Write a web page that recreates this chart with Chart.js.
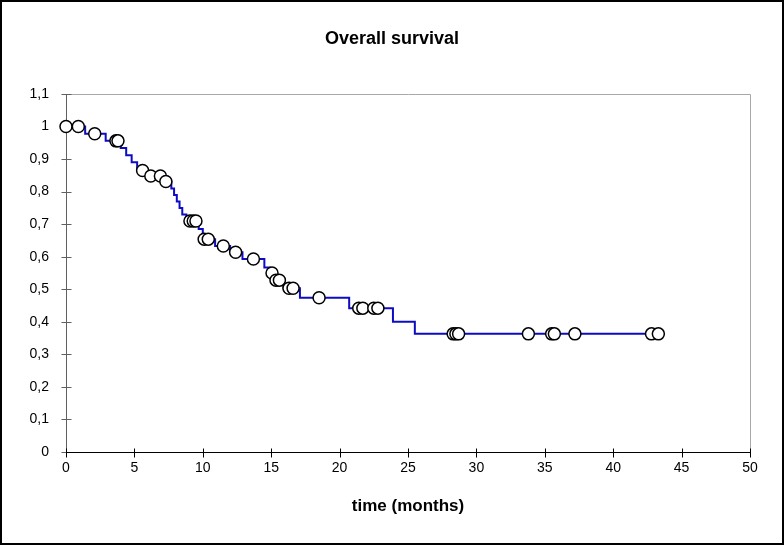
<!DOCTYPE html>
<html>
<head>
<meta charset="utf-8">
<script src="https://cdn.jsdelivr.net/npm/chart.js@4/dist/chart.umd.min.js"></script>
<style>
  html, body { margin: 0; padding: 0; background: #fff; }
  #wrap { width: 784px; height: 545px; }
</style>
</head>
<body>
<div id="wrap"><canvas id="survivalChart" width="784" height="545"></canvas></div>
<script>
// Kaplan-Meier step curve: time of each drop and survival after it
const stepTimes = [0, 1.4, 2.9, 4.0, 4.4, 4.8, 5.2, 5.9, 7.1, 7.7, 7.9, 8.1, 8.3, 8.5, 8.8,
    9.7, 10.0, 10.9, 12.0, 12.9, 14.5, 14.9, 15.2, 15.9, 17.1, 20.7, 23.9, 25.5, 43.5];
const stepSurvival = [1, 0.978, 0.956, 0.934, 0.912, 0.890, 0.865, 0.848, 0.831, 0.81, 0.79, 0.77, 0.75, 0.73, 0.71,
    0.685, 0.654, 0.633, 0.614, 0.593, 0.567, 0.55, 0.528, 0.503, 0.474, 0.442, 0.40, 0.363, 0.363];

// censored observations (circles)
const censoredTimes = [0, 0.9, 2.1, 3.65, 3.8, 5.6, 6.2, 6.9, 7.3, 9.06, 9.3, 9.5, 10.1, 10.4, 11.5, 12.4, 13.7,
    15.06, 15.35, 15.6, 16.3, 16.6, 18.5, 21.4, 21.7, 22.5, 22.8, 28.3, 28.5, 28.7, 33.8, 35.5, 35.7, 37.2, 42.8, 43.3];
const censoredSurvival = [1, 1, 0.978, 0.956, 0.956, 0.865, 0.848, 0.848, 0.831, 0.71, 0.71, 0.71, 0.654, 0.654, 0.633, 0.614, 0.593,
    0.55, 0.528, 0.528, 0.503, 0.503, 0.474, 0.442, 0.442, 0.442, 0.442, 0.363, 0.363, 0.363, 0.363, 0.363, 0.363, 0.363, 0.363, 0.363];

const xTickLabels = ['0', '5', '10', '15', '20', '25', '30', '35', '40', '45', '50'];
const yTickLabels = ['0', '0,1', '0,2', '0,3', '0,4', '0,5', '0,6', '0,7', '0,8', '0,9', '1', '1,1'];

const FONT = "'Liberation Sans', Arial, sans-serif";

const framePlugin = {
    id: 'frame',
    beforeDraw(chart) {
        const ctx = chart.ctx;
        ctx.save();
        ctx.fillStyle = '#fff';
        ctx.fillRect(0, 0, chart.width, chart.height);
        ctx.restore();
    },
    beforeDatasetsDraw(chart) {
        const { ctx, chartArea: a, scales } = chart;
        ctx.save();
        // top / right plot border
        ctx.strokeStyle = '#a8a8a8';
        ctx.lineWidth = 1;
        ctx.beginPath();
        ctx.moveTo(Math.round(a.left) + 0.5, Math.round(a.top) + 0.5);
        ctx.lineTo(Math.round(a.right) + 0.5, Math.round(a.top) + 0.5);
        ctx.lineTo(Math.round(a.right) + 0.5, Math.round(a.bottom) + 0.5);
        ctx.stroke();
        // y axis and ticks
        ctx.strokeStyle = '#606060';
        ctx.beginPath();
        const lx = Math.round(a.left) + 0.5;
        ctx.moveTo(lx, a.top);
        ctx.lineTo(lx, a.bottom);
        scales.y.ticks.forEach(t => {
            const y = Math.round(scales.y.getPixelForValue(t.value)) + 0.5;
            ctx.moveTo(lx - 5, y);
            ctx.lineTo(lx + 5, y);
        });
        ctx.stroke();
        // x axis and ticks
        ctx.strokeStyle = '#000';
        ctx.beginPath();
        const by = Math.round(a.bottom) + 0.5;
        ctx.moveTo(a.left, by);
        ctx.lineTo(a.right, by);
        scales.x.ticks.forEach(t => {
            const x = Math.round(scales.x.getPixelForValue(t.value)) + 0.5;
            ctx.moveTo(x, by - 4);
            ctx.lineTo(x, by + 5);
        });
        ctx.stroke();
        ctx.restore();
    },
    afterDraw(chart) {
        const ctx = chart.ctx;
        ctx.save();
        ctx.lineWidth = 2;
        ctx.strokeStyle = '#000';
        ctx.strokeRect(1, 1, chart.width - 2, chart.height - 2);
        ctx.restore();
    }
};

const ctx = document.getElementById('survivalChart').getContext('2d');
new Chart(ctx, {
    type: 'scatter',
    data: {
        datasets: [{
            label: 'Censored',
            data: censoredTimes.map((t, i) => ({ x: t, y: censoredSurvival[i] })),
            pointStyle: 'circle',
            pointRadius: 6,
            pointBackgroundColor: '#fff',
            pointBorderColor: '#000',
            pointBorderWidth: 1.5,
            showLine: false,
            clip: false
        }, {
            label: 'Survival',
            data: stepTimes.map((t, i) => ({ x: t, y: stepSurvival[i] })),
            showLine: true,
            stepped: true,
            borderColor: '#0c0cc4',
            borderWidth: 2,
            pointRadius: 0,
            fill: false
        }]
    },
    options: {
        responsive: false,
        animation: false,
        layout: { padding: 0 },
        plugins: {
            legend: { display: false },
            tooltip: { enabled: false },
            title: {
                display: true,
                text: 'Overall survival',
                color: '#000',
                font: { family: FONT, size: 18, weight: 'bold' },
                padding: { top: 28, bottom: 44.4 }
            }
        },
        scales: {
            x: {
                type: 'linear',
                min: 0,
                max: 50,
                grid: { display: false },
                border: { display: false },
                ticks: {
                    stepSize: 5,
                    padding: 0,
                    color: '#000',
                    font: { family: FONT, size: 14 },
                    maxRotation: 0,
                    callback: (v, i) => xTickLabels[i]
                },
                title: {
                    display: true,
                    text: 'time (months)',
                    color: '#000',
                    font: { family: FONT, size: 17, weight: 'bold' },
                    padding: { top: 0, bottom: 28 }
                },
                afterFit: s => { s.height = 93; }
            },
            y: {
                type: 'linear',
                min: 0,
                max: 1.1,
                grid: { display: false },
                border: { display: false },
                ticks: {
                    stepSize: 0.1,
                    padding: 9,
                    color: '#000',
                    font: { family: FONT, size: 14 },
                    callback: (v, i) => yTickLabels[i]
                },
                afterFit: s => { s.width = 66; }
            },
            // empty right-hand margin so the plot ends at x = 750
            margin: {
                type: 'linear',
                position: 'right',
                display: true,
                grid: { display: false },
                border: { display: false },
                ticks: { display: false },
                afterFit: s => { s.width = 34; }
            }
        }
    },
    plugins: [framePlugin]
});
</script>
</body>
</html>
